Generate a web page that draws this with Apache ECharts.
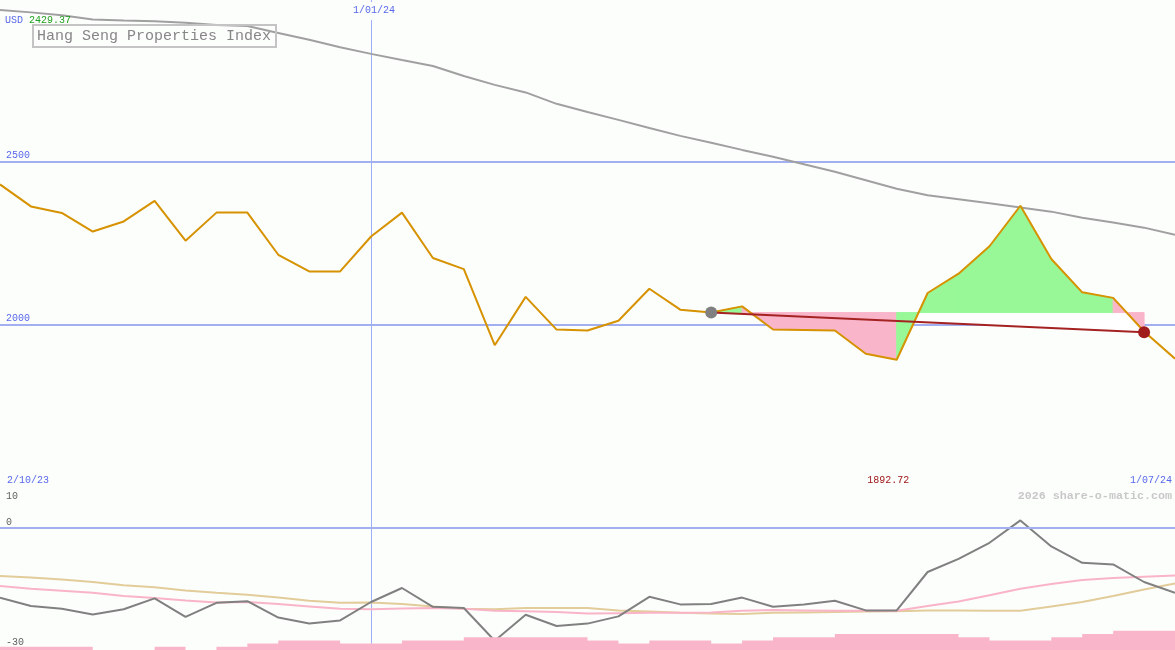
<!DOCTYPE html>
<html>
<head>
<meta charset="utf-8">
<script src="https://cdn.jsdelivr.net/npm/echarts@6/dist/echarts.min.js"></script>
<style>
html,body{margin:0;padding:0;background:#fcfefc;}
#chart{width:1175px;height:650px;}
</style>
</head>
<body>
<div id="chart"></div>
<script>
// ---- data ----
const weeks = ['9/10/23','16/10/23','23/10/23','30/10/23','6/11/23','13/11/23','20/11/23','27/11/23',
  '4/12/23','11/12/23','18/12/23','25/12/23','1/01/24','8/01/24','15/01/24','22/01/24','29/01/24',
  '5/02/24','12/02/24','19/02/24','26/02/24','4/03/24','11/03/24','18/03/24','25/03/24','1/04/24',
  '8/04/24','15/04/24','22/04/24','29/04/24','6/05/24','13/05/24','20/05/24','27/05/24','3/06/24',
  '10/06/24','17/06/24','24/06/24','1/07/24'];
const price = [2429.37,2362,2342,2285,2316,2379,2257,2343,2343,2214,2163,2163,2270,2343,2204,2170,
  1937,2085,1985,1982,2012,2110,2046,2037,2056,1985,1984,1982,1911,1892.72,2097,2156,2240,2364,
  2201,2099,2082,1979,1896];
const priceMA = [2963,2956,2947,2934,2931,2929,2924,2917,2914,2893,2872,2849,2829,2810,2792,2761,
  2734,2711,2676,2651,2627,2602,2578,2557,2535,2514,2491,2468,2442,2416,2396,2384,2372,2359,2346,
  2327,2313,2297,2275];
const oscillator = [-17.4,-19.5,-20.2,-21.6,-20.3,-17.6,-22.2,-18.7,-18.3,-22.4,-23.9,-23.1,-18.5,
  -15.0,-19.7,-20.0,-28.2,-21.7,-24.5,-23.9,-22.1,-17.2,-19.1,-19.0,-17.4,-19.7,-19.1,-18.2,-20.6,
  -20.6,-11.0,-7.7,-3.7,1.9,-4.6,-8.7,-9.1,-13.5,-16.2];
const oscFast = [-14.5,-15.2,-15.7,-16.2,-17.0,-17.5,-18.1,-18.6,-18.5,-19.0,-19.6,-20.2,-20.3,-20.1,
  -20.0,-20.2,-20.7,-20.8,-21.0,-21.4,-21.3,-21.2,-21.2,-21.1,-20.7,-20.5,-20.6,-20.7,-20.7,-20.7,
  -19.5,-18.4,-16.8,-15.2,-14.0,-13.0,-12.5,-12.2,-11.9];
const oscSlow = [-12.0,-12.4,-12.9,-13.5,-14.3,-14.8,-15.6,-16.2,-16.7,-17.4,-18.2,-18.7,-18.6,-19.0,
  -19.6,-20.2,-20.3,-20.0,-20.0,-20.0,-20.6,-20.9,-21.2,-21.4,-21.5,-21.2,-21.1,-21.0,-20.9,-20.8,
  -20.6,-20.6,-20.7,-20.7,-19.6,-18.5,-17.0,-15.4,-13.9];
const volumeLevel = [1,1,1,0,0,1,0,1,2,3,3,2,2,3,3,4,4,4,4,3,2,3,3,2,3,4,4,5,5,5,5,4,3,3,4,5,6,6,6];
const priceTicks = [2000, 2500];
const oscTicks = [-30, 0, 10];
const periodLabels = ['2/10/23', '1/07/24'];
const yearMarkIndex = 12;
const yearMarkLabel = '1/01/24';
const trendFrom = 23;
const trendTo = 37;
const trendEndValue = 1977;
const currency = 'USD';
const chartTitle = 'Hang Seng Properties Index';
const credit = '2026 share-o-matic.com';

// ---- derived ----
const minValue = Math.min(...price);
const minIndex = price.indexOf(minValue);
const maxValue = Math.max(...price);
const refValue = price[trendFrom];
const trendData = weeks.map((w, i) =>
  i === trendFrom ? {value: refValue, itemStyle: {color: '#808080'}} :
  i === trendTo ? {value: trendEndValue, itemStyle: {color: '#a01c1c'}} : '-');

const MONO = 'Liberation Mono';
const BLUE = '#5868ea';
const BG = '#fcfefc';
const GREEN_FILL = '#98f898';
const PINK_FILL = '#f9b6ca';
const VLINE = '#9eaef8';

function renderFill(params, api) {
  const p = (i, v) => api.coord([i, v]);
  const children = [];
  children.push({
    type: 'polygon',
    shape: {points: [p(trendFrom, refValue), p(trendTo, refValue), p(trendTo, trendEndValue)]},
    style: {fill: '#ffffff'}
  });
  for (let i = trendFrom; i < trendTo; i++) {
    const c = price[i + 1] >= refValue ? GREEN_FILL : PINK_FILL;
    children.push({
      type: 'polygon',
      shape: {points: [p(i, refValue), p(i, price[i]), p(i + 1, price[i + 1]), p(i + 1, refValue)]},
      style: {fill: c, stroke: c, lineWidth: 1}
    });
  }
  return {type: 'group', children};
}

const chart = echarts.init(document.getElementById('chart'), null, {renderer: 'canvas'});
const gridBase = {left: 0, right: 0, containLabel: false, outerBoundsMode: 'none'};
const option = {
  backgroundColor: BG,
  animation: false,
  title: [
    {
      text: chartTitle, left: 33, top: 25,
      borderColor: '#c4c4c4', borderWidth: 2, padding: [4, 5, 3, 4],
      textStyle: {fontFamily: MONO, fontSize: 15, fontWeight: 'normal', color: '#868686'}
    },
    {
      text: '{u|' + currency + '} {v|' + maxValue.toFixed(2) + '}', left: 5, top: 15, padding: 0,
      textStyle: {fontFamily: MONO, fontSize: 10, fontWeight: 'normal', rich: {
        u: {fontFamily: MONO, fontSize: 10, fontWeight: 'normal', color: BLUE},
        v: {fontFamily: MONO, fontSize: 10, fontWeight: 'normal', color: '#22a022'}
      }}
    },
    {
      text: credit, right: 3, top: 490, padding: 0,
      textStyle: {fontFamily: MONO, fontSize: 11.7, fontWeight: 'bold', color: '#c8c8c8'}
    }
  ],
  grid: [
    Object.assign({top: -2, height: 490}, gridBase),
    Object.assign({top: 488, height: 160}, gridBase),
    Object.assign({top: 490, height: 160}, gridBase)
  ],
  xAxis: [
    {
      type: 'category', data: weeks, gridIndex: 0, boundaryGap: false, position: 'top',
      axisLine: {show: false}, axisTick: {show: false},
      axisLabel: {
        inside: true, interval: 0, margin: 4, color: BLUE, fontFamily: MONO, fontSize: 10,
        backgroundColor: BG, padding: [3, 2, 5, 8],
        formatter: (v, i) => i === yearMarkIndex ? yearMarkLabel : ''
      },
      splitLine: {show: true, interval: (i) => i === yearMarkIndex, lineStyle: {color: VLINE, width: 1}}
    },
    {
      type: 'category', data: weeks, gridIndex: 1, boundaryGap: false, position: 'top',
      axisLine: {show: true, lineStyle: {color: '#7080e8', width: 2}}, axisTick: {show: false},
      axisLabel: {
        interval: 0, margin: 3, fontFamily: MONO, fontSize: 10,
        alignMinLabel: 'left', alignMaxLabel: 'right',
        formatter: (v, i) => i === 0 ? '{a|' + periodLabels[0] + '}' :
          i === weeks.length - 1 ? '{b|' + periodLabels[1] + '}' :
          i === minIndex ? '{m|' + minValue.toFixed(2) + '}' : '',
        rich: {
          a: {fontFamily: MONO, fontSize: 10, color: BLUE, padding: [0, 0, 0, 7]},
          b: {fontFamily: MONO, fontSize: 10, color: BLUE, padding: [0, 3, 0, 0]},
          m: {fontFamily: MONO, fontSize: 10, color: '#a01818', padding: [0, 17, 0, 0]}
        }
      },
      splitLine: {show: true, interval: (i) => i === yearMarkIndex, lineStyle: {color: VLINE, width: 1}}
    },
    {type: 'category', data: weeks, gridIndex: 2, boundaryGap: false, show: false}
  ],
  yAxis: [
    {
      type: 'value', gridIndex: 0, min: 1500, max: 3000, interval: 500,
      axisLine: {show: false}, axisTick: {show: false},
      axisLabel: {
        inside: true, margin: 6, color: BLUE, fontFamily: MONO, fontSize: 10, verticalAlign: 'bottom',
        padding: [0, 0, 1, 0],
        formatter: (v) => priceTicks.includes(v) ? String(v) : ''
      },
      splitLine: {show: true, showMinLine: false, showMaxLine: false, lineStyle: {color: '#a2b0f2', width: 2}}
    },
    {
      type: 'value', gridIndex: 1, min: -30, max: 10, interval: 10,
      axisLine: {show: false}, axisTick: {show: false},
      axisLabel: {
        inside: true, margin: 6, color: '#606060', fontFamily: MONO, fontSize: 10,
        verticalAlign: 'bottom', verticalAlignMaxLabel: 'top',
        formatter: (v) => v === oscTicks[oscTicks.length - 1] ? '{t|' + v + '}' :
          oscTicks.includes(v) ? '{n|' + v + '}' : '',
        rich: {
          t: {fontFamily: MONO, fontSize: 10, color: '#606060', padding: [3, 0, 0, 0]},
          n: {fontFamily: MONO, fontSize: 10, color: '#606060', padding: [0, 0, 1, 0]}
        }
      },
      splitLine: {show: false}
    },
    {type: 'value', gridIndex: 2, min: 0, max: 50, show: false}
  ],
  series: [
    {
      name: 'MA', type: 'line', xAxisIndex: 0, yAxisIndex: 0, data: priceMA, symbol: 'none', z: 2,
      lineStyle: {color: '#a0a0a0', width: 2}
    },
    {
      name: 'fill', type: 'custom', xAxisIndex: 0, yAxisIndex: 0, clip: false, z: 3,
      data: [[trendFrom, refValue]], renderItem: renderFill, silent: true
    },
    {
      name: 'Price', type: 'line', xAxisIndex: 0, yAxisIndex: 0, data: price, symbol: 'none', z: 4,
      lineStyle: {color: '#d69200', width: 2}
    },
    {
      name: 'Trend', type: 'line', xAxisIndex: 0, yAxisIndex: 0, data: trendData, connectNulls: true,
      symbol: 'circle', symbolSize: 12, showSymbol: true, showAllSymbol: true, z: 5,
      lineStyle: {color: '#a52222', width: 2}
    },
    {
      name: 'Slow', type: 'line', xAxisIndex: 1, yAxisIndex: 1, data: oscSlow, symbol: 'none', z: 2,
      lineStyle: {color: '#e2cc9a', width: 2},
      markLine: {
        silent: true, symbol: 'none', label: {show: false},
        lineStyle: {color: '#a2b0f2', width: 2, type: 'solid'},
        data: [{yAxis: 0}]
      }
    },
    {
      name: 'Fast', type: 'line', xAxisIndex: 1, yAxisIndex: 1, data: oscFast, symbol: 'none', z: 3,
      lineStyle: {color: '#f9b4c8', width: 2}
    },
    {
      name: 'Osc', type: 'line', xAxisIndex: 1, yAxisIndex: 1, data: oscillator, symbol: 'none', z: 4,
      lineStyle: {color: '#808080', width: 2}
    },
    {
      name: 'Volume', type: 'line', xAxisIndex: 2, yAxisIndex: 2, data: volumeLevel, step: 'end',
      symbol: 'none', z: 5, lineStyle: {width: 0},
      areaStyle: {color: PINK_FILL, opacity: 1}
    }
  ]
};
chart.setOption(option);
</script>
</body>
</html>
